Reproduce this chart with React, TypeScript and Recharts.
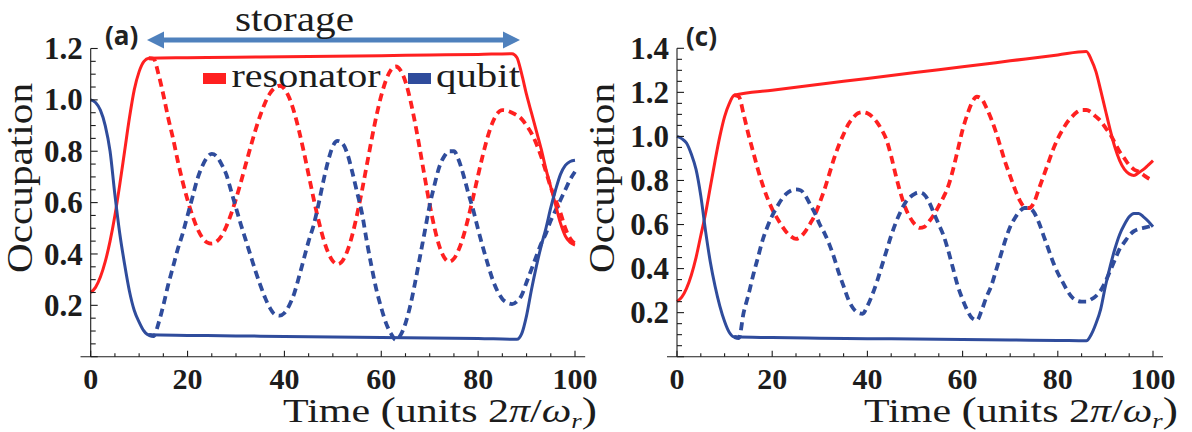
import React from "react";
import { LineChart, Line, XAxis, YAxis, ReferenceLine } from "recharts";

type Pt = [number, number];

// tick positions (labels drawn on the multiples of 20 / 0.2)
const xTicks = [0, 5, 10, 15, 20, 25, 30, 35, 40, 45, 50, 55, 60, 65, 70, 75, 80, 85, 90, 95, 100];
const yTicksA = [0, 0.05, 0.1, 0.15, 0.2, 0.25, 0.3, 0.35, 0.4, 0.45, 0.5, 0.55, 0.6, 0.65, 0.7, 0.75, 0.8, 0.85, 0.9, 0.95, 1.0, 1.05, 1.1, 1.15, 1.2];
const yTicksC = [...yTicksA, 1.25, 1.3, 1.35, 1.4];

// panel (a): storage
const resonatorA: Pt[] = [
  [0, 0.25], [1, 0.27], [2, 0.31], [3, 0.37], [4, 0.45], [5, 0.55], [6, 0.67], [7, 0.8], [8, 0.93], [9, 1.04],
  [10, 1.11], [11, 1.15], [12, 1.162], [20, 1.164], [30, 1.166], [40, 1.168], [50, 1.17], [60, 1.172], [70, 1.175],
  [80, 1.177], [87, 1.18], [88, 1.165], [89, 1.1], [90, 1.02], [91, 0.95], [92, 0.88], [93, 0.81], [94, 0.73],
  [95, 0.66], [96, 0.59], [97, 0.52], [98, 0.47], [99, 0.445], [100, 0.435],
];
const resonatorFreeA: Pt[] = [
  [12, 1.162], [13, 1.16], [14, 1.1], [15, 1.02], [16, 0.93], [17, 0.85], [18, 0.76], [19, 0.68], [20, 0.61],
  [21, 0.55], [22, 0.5], [23, 0.465], [24, 0.445], [25, 0.44], [26, 0.448], [27, 0.47], [28, 0.507], [29, 0.556],
  [30, 0.614], [31, 0.679], [32, 0.748], [33, 0.816], [34, 0.881], [35, 0.939], [36, 0.988], [37, 1.025],
  [38, 1.047], [39, 1.055], [40, 1.043], [41, 1.008], [42, 0.953], [43, 0.881], [44, 0.798], [45, 0.708],
  [46, 0.618], [47, 0.534], [48, 0.462], [49, 0.407], [50, 0.372], [51, 0.36], [52, 0.373], [53, 0.412],
  [54, 0.473], [55, 0.553], [56, 0.645], [57, 0.745], [58, 0.845], [59, 0.938], [60, 1.017], [61, 1.078],
  [62, 1.117], [63, 1.13], [64, 1.114], [65, 1.07], [66, 0.999], [67, 0.908], [68, 0.804], [69, 0.696],
  [70, 0.592], [71, 0.501], [72, 0.43], [73, 0.386], [74, 0.37], [75, 0.382], [76, 0.417], [77, 0.472],
  [78, 0.543], [79, 0.623], [80, 0.707], [81, 0.787], [82, 0.858], [83, 0.913], [84, 0.948], [85, 0.96],
  [86, 0.958], [87, 0.95], [88, 0.94], [89, 0.925], [90, 0.9], [91, 0.87], [92, 0.83], [93, 0.78], [94, 0.72],
  [95, 0.66], [96, 0.61], [97, 0.56], [98, 0.5], [99, 0.46], [100, 0.44],
];
const qubitA: Pt[] = [
  [0, 1.0], [1, 0.99], [2, 0.96], [3, 0.9], [4, 0.8], [5, 0.63], [6, 0.48], [7, 0.36], [8, 0.255], [9, 0.18],
  [10, 0.135], [11, 0.1], [12, 0.085], [20, 0.083], [30, 0.081], [40, 0.079], [50, 0.077], [60, 0.075],
  [70, 0.073], [80, 0.071], [88, 0.068], [89, 0.09], [90, 0.16], [91, 0.26], [92, 0.35], [93, 0.43], [94, 0.5],
  [95, 0.58], [96, 0.65], [97, 0.71], [98, 0.745], [99, 0.76], [100, 0.765],
];
const qubitFreeA: Pt[] = [
  [12, 0.085], [13, 0.08], [14, 0.13], [15, 0.2], [16, 0.28], [17, 0.35], [18, 0.42], [19, 0.48], [20, 0.55],
  [21, 0.62], [22, 0.69], [23, 0.74], [24, 0.775], [25, 0.79], [26, 0.78], [27, 0.75], [28, 0.71], [29, 0.645],
  [30, 0.58], [31, 0.515], [32, 0.455], [33, 0.395], [34, 0.335], [35, 0.28], [36, 0.23], [37, 0.19], [38, 0.165],
  [39, 0.16], [40, 0.17], [41, 0.2], [42, 0.245], [43, 0.31], [44, 0.38], [45, 0.45], [46, 0.51], [47, 0.59],
  [48, 0.68], [49, 0.76], [50, 0.82], [51, 0.84], [52, 0.83], [53, 0.79], [54, 0.72], [55, 0.64], [56, 0.56],
  [57, 0.45], [58, 0.35], [59, 0.26], [60, 0.19], [61, 0.13], [62, 0.09], [63, 0.066], [64, 0.085], [65, 0.13],
  [66, 0.2], [67, 0.29], [68, 0.39], [69, 0.49], [70, 0.59], [71, 0.67], [72, 0.74], [73, 0.78], [74, 0.8],
  [75, 0.8], [76, 0.765], [77, 0.705], [78, 0.635], [79, 0.57], [80, 0.495], [81, 0.425], [82, 0.36], [83, 0.3],
  [84, 0.255], [85, 0.225], [86, 0.21], [87, 0.205], [88, 0.215], [89, 0.24], [90, 0.29], [91, 0.34], [92, 0.39],
  [93, 0.44], [94, 0.48], [95, 0.53], [96, 0.57], [97, 0.61], [98, 0.65], [99, 0.69], [100, 0.72],
];

// panel (c)
const resonatorC: Pt[] = [
  [0, 0.25], [1, 0.27], [2, 0.31], [3, 0.37], [4, 0.45], [5, 0.55], [6, 0.65], [7, 0.77], [8, 0.89], [9, 1.0],
  [10, 1.09], [11, 1.15], [12, 1.187], [20, 1.21], [30, 1.237], [40, 1.263], [50, 1.29], [60, 1.316], [70, 1.343],
  [80, 1.37], [86, 1.385], [87, 1.35], [88, 1.295], [89, 1.21], [90, 1.12], [91, 1.03], [92, 0.95], [93, 0.89],
  [94, 0.85], [95, 0.83], [96, 0.823], [97, 0.835], [98, 0.85], [99, 0.87], [100, 0.89],
];
const resonatorFreeC: Pt[] = [
  [12, 1.187], [13, 1.18], [14, 1.1], [15, 1.01], [16, 0.93], [17, 0.85], [18, 0.78], [19, 0.72], [20, 0.67],
  [21, 0.63], [22, 0.595], [23, 0.565], [24, 0.545], [25, 0.535], [26, 0.545], [27, 0.57], [28, 0.605],
  [29, 0.645], [30, 0.7], [31, 0.76], [32, 0.83], [33, 0.9], [34, 0.96], [35, 1.01], [36, 1.055], [37, 1.085],
  [38, 1.105], [39, 1.11], [40, 1.105], [41, 1.09], [42, 1.065], [43, 1.03], [44, 0.985], [45, 0.91], [46, 0.82],
  [47, 0.74], [48, 0.675], [49, 0.63], [50, 0.6], [51, 0.585], [52, 0.59], [53, 0.615], [54, 0.645], [55, 0.685],
  [56, 0.725], [57, 0.775], [58, 0.85], [59, 0.94], [60, 1.03], [61, 1.1], [62, 1.155], [63, 1.18], [64, 1.17],
  [65, 1.13], [66, 1.08], [67, 1.02], [68, 0.95], [69, 0.88], [70, 0.82], [71, 0.76], [72, 0.71], [73, 0.68],
  [74, 0.675], [75, 0.7], [76, 0.76], [77, 0.82], [78, 0.88], [79, 0.94], [80, 0.99], [81, 1.03], [82, 1.065],
  [83, 1.09], [84, 1.11], [85, 1.12], [86, 1.12], [87, 1.11], [88, 1.09], [89, 1.07], [90, 1.04], [91, 1.01],
  [92, 0.97], [93, 0.93], [94, 0.9], [95, 0.87], [96, 0.85], [97, 0.84], [98, 0.825], [99, 0.81], [100, 0.8],
];
const qubitC: Pt[] = [
  [0, 1.0], [1, 0.99], [2, 0.97], [3, 0.92], [4, 0.85], [5, 0.73], [6, 0.57], [7, 0.43], [8, 0.32], [9, 0.23],
  [10, 0.16], [11, 0.11], [12, 0.09], [20, 0.087], [30, 0.084], [40, 0.082], [50, 0.08], [60, 0.078], [70, 0.076],
  [80, 0.074], [86, 0.072], [87, 0.1], [88, 0.15], [89, 0.215], [90, 0.32], [91, 0.41], [92, 0.49], [93, 0.555],
  [94, 0.6], [95, 0.635], [96, 0.65], [97, 0.65], [98, 0.635], [99, 0.615], [100, 0.59],
];
const qubitFreeC: Pt[] = [
  [12, 0.09], [13, 0.085], [14, 0.2], [15, 0.28], [16, 0.37], [17, 0.45], [18, 0.53], [19, 0.59], [20, 0.64],
  [21, 0.68], [22, 0.715], [23, 0.74], [24, 0.755], [25, 0.76], [26, 0.755], [27, 0.73], [28, 0.69], [29, 0.65],
  [30, 0.6], [31, 0.56], [32, 0.51], [33, 0.45], [34, 0.38], [35, 0.32], [36, 0.26], [37, 0.22], [38, 0.2],
  [39, 0.195], [40, 0.23], [41, 0.28], [42, 0.34], [43, 0.41], [44, 0.48], [45, 0.55], [46, 0.61], [47, 0.66],
  [48, 0.7], [49, 0.725], [50, 0.74], [51, 0.745], [52, 0.735], [53, 0.7], [54, 0.65], [55, 0.6], [56, 0.55],
  [57, 0.48], [58, 0.4], [59, 0.32], [60, 0.26], [61, 0.21], [62, 0.175], [63, 0.165], [64, 0.21], [65, 0.27],
  [66, 0.32], [67, 0.39], [68, 0.46], [69, 0.53], [70, 0.59], [71, 0.63], [72, 0.66], [73, 0.675], [74, 0.675],
  [75, 0.655], [76, 0.61], [77, 0.55], [78, 0.49], [79, 0.43], [80, 0.38], [81, 0.34], [82, 0.3], [83, 0.27],
  [84, 0.255], [85, 0.25], [86, 0.25], [87, 0.26], [88, 0.275], [89, 0.3], [90, 0.34], [91, 0.39], [92, 0.44],
  [93, 0.49], [94, 0.52], [95, 0.55], [96, 0.57], [97, 0.58], [98, 0.585], [99, 0.59], [100, 0.595],
];

const RED = "#ff2020";
const BLUE = "#2f4c9c";
const INK = "#1c1c1c";
const SERIF = "Liberation Serif, Tinos, DejaVu Serif, serif";
const serif = { fontFamily: SERIF };

const rows = (pts: Pt[]) => pts.map(([t, v]) => ({ t, v }));

function XTick(props: any) {
  const { x, y, payload } = props;
  const v = payload.value;
  const major = v % 20 === 0;
  return (
    <g>
      <line x1={x} x2={x} y1={y} y2={y - (major ? 6 : 3.5)} stroke={INK} strokeWidth={1.1} />
      {major && (
        <text x={x} y={y + 32} textAnchor="middle" style={serif} fontWeight="bold" fontSize={30} fill={INK}>
          {v}
        </text>
      )}
    </g>
  );
}

function YTick(props: any) {
  const { x, y, payload } = props;
  const v = payload.value;
  const major = Math.abs(v * 5 - Math.round(v * 5)) < 1e-6;
  return (
    <g>
      <line x1={x} x2={x + (major ? 7 : 5)} y1={y} y2={y} stroke={INK} strokeWidth={1.1} />
      {major && v > 0 && (
        <text x={x - 8} y={y} dy="0.34em" textAnchor="end" style={serif} fontWeight="bold" fontSize={31} fill={INK}>
          {v.toFixed(1)}
        </text>
      )}
    </g>
  );
}

type PanelProps = {
  left: number;
  width: number;
  axisW: number;
  right: number;
  top: number;
  yMax: number;
  yTicks: number[];
  res: Pt[];
  resFree: Pt[];
  qb: Pt[];
  qbFree: Pt[];
};

function Panel(p: PanelProps) {
  return (
    <div style={{ position: "absolute", left: p.left, top: 0 }}>
      <LineChart width={p.width} height={432} margin={{ top: p.top, right: p.right, bottom: 45.3, left: 0 }}>
        <XAxis
          dataKey="t"
          type="number"
          domain={[0, 100]}
          ticks={xTicks}
          interval={0}
          height={30}
          axisLine={false}
          tickLine={false}
          tickSize={0}
          tickMargin={0}
          tick={(props: any) => <XTick {...props} />}
        />
        <YAxis
          type="number"
          domain={[0, p.yMax]}
          ticks={p.yTicks}
          interval={0}
          width={p.axisW}
          axisLine={{ stroke: INK, strokeWidth: 1.1 }}
          tickLine={false}
          tickSize={0}
          tickMargin={0}
          tick={(props: any) => <YTick {...props} />}
        />
        <ReferenceLine
          segment={[{ x: -2.1, y: 0 }, { x: 102.1, y: 0 }]}
          ifOverflow="visible"
          stroke={INK}
          strokeWidth={1.1}
        />
        <Line data={rows(p.resFree)} dataKey="v" type="monotone" stroke={RED} strokeWidth={3.8} strokeDasharray="8 5" dot={false} isAnimationActive={false} />
        <Line data={rows(p.qbFree)} dataKey="v" type="monotone" stroke={BLUE} strokeWidth={3.8} strokeDasharray="8 5" dot={false} isAnimationActive={false} />
        <Line data={rows(p.res)} dataKey="v" type="monotone" stroke={RED} strokeWidth={3} dot={false} isAnimationActive={false} />
        <Line data={rows(p.qb)} dataKey="v" type="monotone" stroke={BLUE} strokeWidth={3} dot={false} isAnimationActive={false} />
      </LineChart>
    </div>
  );
}

function TimeLabel({ x }: { x: number }) {
  return (
    <text x={x} y={422} style={serif} fontSize={33} fill={INK} textLength={314} lengthAdjust="spacingAndGlyphs">
      Time <tspan fontSize={36}>(</tspan>units 2<tspan fontStyle="italic">π</tspan>/<tspan fontStyle="italic">ω</tspan>
      <tspan fontStyle="italic" fontSize={21} dy={6}>r</tspan>
      <tspan fontSize={36} dy={-6}>)</tspan>
    </text>
  );
}

function OccLabel({ x }: { x: number }) {
  return (
    <text
      x={x}
      y={178}
      transform={`rotate(-90 ${x} 178)`}
      textAnchor="middle"
      style={serif}
      fontSize={36}
      fill={INK}
      textLength={190}
      lengthAdjust="spacingAndGlyphs"
    >
      Occupation
    </text>
  );
}

export default function App() {
  return (
    <div style={{ position: "absolute", left: 0, top: 0, width: 1192, height: 432, background: "#fff", overflow: "hidden" }}>
      <Panel left={0} width={600} axisW={90.7} right={25} top={48.5} yMax={1.2} yTicks={yTicksA}
        res={resonatorA} resFree={resonatorFreeA} qb={qubitA} qbFree={qubitFreeA} />
      <Panel left={586} width={606} axisW={91} right={39} top={48.3} yMax={1.4} yTicks={yTicksC}
        res={resonatorC} resFree={resonatorFreeC} qb={qubitC} qbFree={qubitFreeC} />
      <svg width={1192} height={432} style={{ position: "absolute", left: 0, top: 0, pointerEvents: "none" }}>
        {/* storage arrow */}
        <g fill="#4f81bd">
          <rect x={162} y={37.5} width={343} height={5} />
          <polygon points="147,40 164,31.5 164,48.5" />
          <polygon points="520,40 503,31.5 503,48.5" />
        </g>
        <text x={235} y={31} style={serif} fontSize={35} fill={INK} textLength={119} lengthAdjust="spacingAndGlyphs">
          storage
        </text>
        <text x={105} y={45} fontFamily="Open Sans, Liberation Sans, sans-serif" fontWeight="bold" fontSize={26} fill="#222">
          (a)
        </text>
        <text x={686} y={46} fontFamily="Open Sans, Liberation Sans, sans-serif" fontWeight="bold" fontSize={26} fill="#222">
          (c)
        </text>
        {/* legend */}
        <rect x={203} y={73} width={23} height={11} fill={RED} />
        <text x={231.5} y={87} style={serif} fontSize={34} fill={INK} textLength={149} lengthAdjust="spacingAndGlyphs">
          resonator
        </text>
        <rect x={408} y={73} width={23} height={11} fill={BLUE} />
        <text x={436} y={87} style={serif} fontSize={34} fill={INK} textLength={84} lengthAdjust="spacingAndGlyphs">
          qubit
        </text>
        <OccLabel x={32} />
        <OccLabel x={614} />
        <TimeLabel x={283} />
        <TimeLabel x={864} />
      </svg>
    </div>
  );
}
